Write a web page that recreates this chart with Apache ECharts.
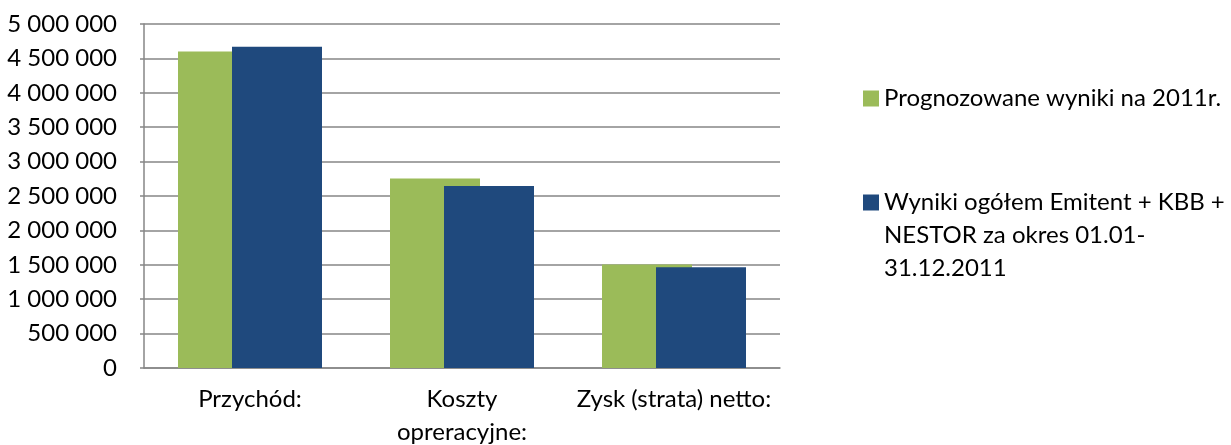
<!DOCTYPE html>
<html>
<head>
<meta charset="utf-8">
<script src="https://cdn.jsdelivr.net/npm/echarts@6/dist/echarts.min.js"></script>
<style>
html,body{margin:0;padding:0;background:#fff;}
#chart{width:1231px;height:445px;}
</style>
</head>
<body>
<div id="chart"></div>
<script>
const categories = ['Przychód:', 'Koszty\nopreracyjne:', 'Zysk (strata) netto:'];
const seriesNames = ['Prognozowane wyniki na 2011r.', 'Wyniki ogółem Emitent + KBB + NESTOR za okres 01.01-31.12.2011'];
const legendLabels = ['Prognozowane wyniki na 2011r.', '\n\nWyniki ogółem Emitent + KBB +\nNESTOR za okres 01.01-\n31.12.2011'];
const forecastValues = [4600000, 2755000, 1505000];
const actualValues = [4670000, 2645000, 1463000];
const yTicks = [0, 500000, 1000000, 1500000, 2000000, 2500000, 3000000, 3500000, 4000000, 4500000, 5000000];

const FONT = 'Lato';
const GRID = '#868686';

function fmt(v) {
  return String(v).replace(/\B(?=(\d{3})+(?!\d))/g, ' ');
}

const chart = echarts.init(document.getElementById('chart'), null, {renderer: 'canvas'});
chart.setOption({
  animation: false,
  backgroundColor: '#ffffff',
  textStyle: {fontFamily: FONT, color: '#000'},
  grid: {left: 144, right: 451, top: 24, bottom: 77, containLabel: false, outerBoundsMode: 'none'},
  legend: [
    {
      data: [seriesNames[0]],
      left: 863, top: 82,
      padding: 0,
      orient: 'vertical',
      itemWidth: 16, itemHeight: 16,
      icon: 'rect',
      selectedMode: false,
      formatter: () => legendLabels[0],
      textStyle: {fontFamily: FONT, fontSize: 24, color: '#000', lineHeight: 33}
    },
    {
      data: [seriesNames[1]],
      left: 863, top: 120,
      padding: 0,
      orient: 'vertical',
      itemWidth: 16, itemHeight: 16,
      icon: 'rect',
      selectedMode: false,
      formatter: () => legendLabels[1],
      textStyle: {fontFamily: FONT, fontSize: 24, color: '#000', lineHeight: 33}
    }
  ],
  xAxis: {
    type: 'category',
    data: categories,
    axisLine: {show: true, lineStyle: {color: GRID, width: 1.5}},
    axisTick: {show: false},
    axisLabel: {fontFamily: FONT, fontSize: 24, color: '#000', margin: 15, lineHeight: 33, interval: 0}
  },
  yAxis: {
    type: 'value',
    min: 0, max: 5000000, interval: 500000,
    axisLine: {show: true, lineStyle: {color: GRID, width: 1.5}},
    axisTick: {show: true, inside: false, length: 4, lineStyle: {color: GRID, width: 1.5}},
    splitLine: {show: true, lineStyle: {color: GRID, width: 1.5}},
    axisLabel: {fontFamily: FONT, fontSize: 24, color: '#000', margin: 27,
      formatter: v => yTicks.includes(v) ? fmt(v) : ''}
  },
  series: [
    {
      name: seriesNames[0], type: 'bar', data: forecastValues,
      barWidth: 90, barGap: '-40%',
      itemStyle: {color: '#9BBB59'}
    },
    {
      name: seriesNames[1], type: 'bar', data: actualValues,
      barWidth: 90, barGap: '-40%',
      itemStyle: {color: '#1F497D'}
    }
  ]
});
</script>
</body>
</html>
